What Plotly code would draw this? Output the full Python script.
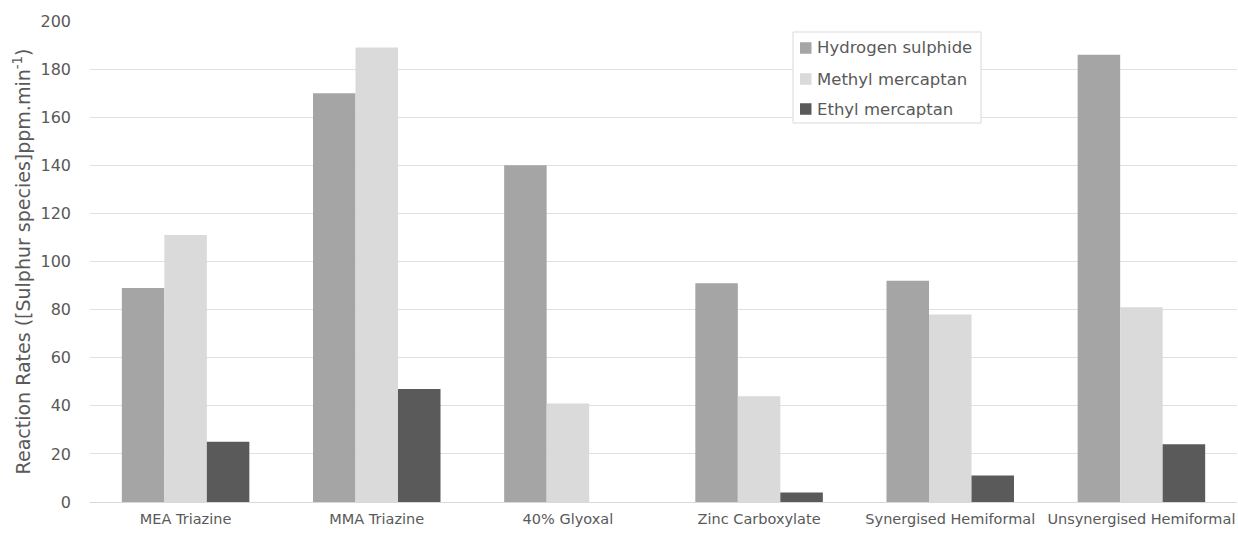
import plotly.graph_objects as go

# Treatment chemistries on the x axis
categories = [
    "MEA Triazine",
    "MMA Triazine",
    "40% Glyoxal",
    "Zinc Carboxylate",
    "Synergised Hemiformal",
    "Unsynergised Hemiformal",
]

# Reaction rates per sulphur species
hydrogen_sulphide = [89, 170, 140, 91, 92, 186]
methyl_mercaptan = [111, 189, 41, 44, 78, 81]
ethyl_mercaptan = [25, 47, 0, 4, 11, 24]

y_ticks = [0, 20, 40, 60, 80, 100, 120, 140, 160, 180, 200]

series = [
    ("Hydrogen sulphide", hydrogen_sulphide, "#a5a5a5"),
    ("Methyl mercaptan", methyl_mercaptan, "#dadada"),
    ("Ethyl mercaptan", ethyl_mercaptan, "#5a5a5a"),
]

text_grey = "#595959"
font_family = "DejaVu Sans"

# Figure geometry (pixels)
W, H = 1238, 534
M_L, M_R, M_T, M_B = 90, 1, 21, 32
PLOT_W = W - M_L - M_R
PLOT_H = H - M_T - M_B


def px_x(x):
    return (x - M_L) / PLOT_W


def px_y(y):
    return (H - M_B - y) / PLOT_H


fig = go.Figure()
for name, values, colour in series:
    fig.add_trace(
        go.Bar(
            name=name,
            x=categories,
            y=values,
            marker=dict(color=colour, line=dict(width=0)),
            showlegend=False,
        )
    )

# Legend box with square swatches and labels
legend_left, legend_right = 793, 981
legend_top, legend_bottom = 32, 123
row_centres = [48, 79, 109]
swatch = 11.5
swatch_left = 800

shapes = [
    dict(
        type="rect", xref="paper", yref="paper",
        x0=px_x(legend_left), x1=px_x(legend_right),
        y0=px_y(legend_bottom), y1=px_y(legend_top),
        fillcolor="white", line=dict(color="#d9d9d9", width=1),
        layer="above",
    )
]
annotations = []
for (name, _, colour), yc in zip(series, row_centres):
    shapes.append(
        dict(
            type="rect", xref="paper", yref="paper",
            x0=px_x(swatch_left), x1=px_x(swatch_left + swatch),
            y0=px_y(yc + swatch / 2), y1=px_y(yc - swatch / 2),
            fillcolor=colour, line=dict(width=0), layer="above",
        )
    )
    annotations.append(
        dict(
            text=name, xref="paper", yref="paper",
            x=px_x(swatch_left + swatch + 3), y=px_y(yc),
            xanchor="left", yanchor="middle", showarrow=False,
            font=dict(family=font_family, size=16.5, color=text_grey),
        )
    )

fig.update_layout(
    width=W,
    height=H,
    margin=dict(l=M_L, r=M_R, t=M_T, b=M_B),
    paper_bgcolor="white",
    plot_bgcolor="white",
    barmode="group",
    bargap=0.333,
    bargroupgap=0,
    font=dict(family=font_family, color=text_grey),
    showlegend=False,
    shapes=shapes,
    annotations=annotations,
    xaxis=dict(
        type="category",
        tickangle=0,
        tickfont=dict(family=font_family, size=14.5, color=text_grey),
        showgrid=False,
        showline=True,
        linecolor="#d9d9d9",
        linewidth=1,
        ticks="",
        ticklabelstandoff=4,
    ),
    yaxis=dict(
        range=[0, 200],
        tickvals=y_ticks,
        tickfont=dict(family=font_family, size=16, color=text_grey),
        showgrid=True,
        gridcolor="#e0e0e0",
        gridwidth=1,
        zeroline=False,
        showline=False,
        ticks="",
        ticklabelstandoff=18,
        title=dict(
            text="Reaction Rates ([Sulphur species]ppm.min<sup>-1</sup>)",
            font=dict(family=font_family, size=19, color=text_grey),
            standoff=4,
        ),
    ),
)

fig.write_html("out.html")
